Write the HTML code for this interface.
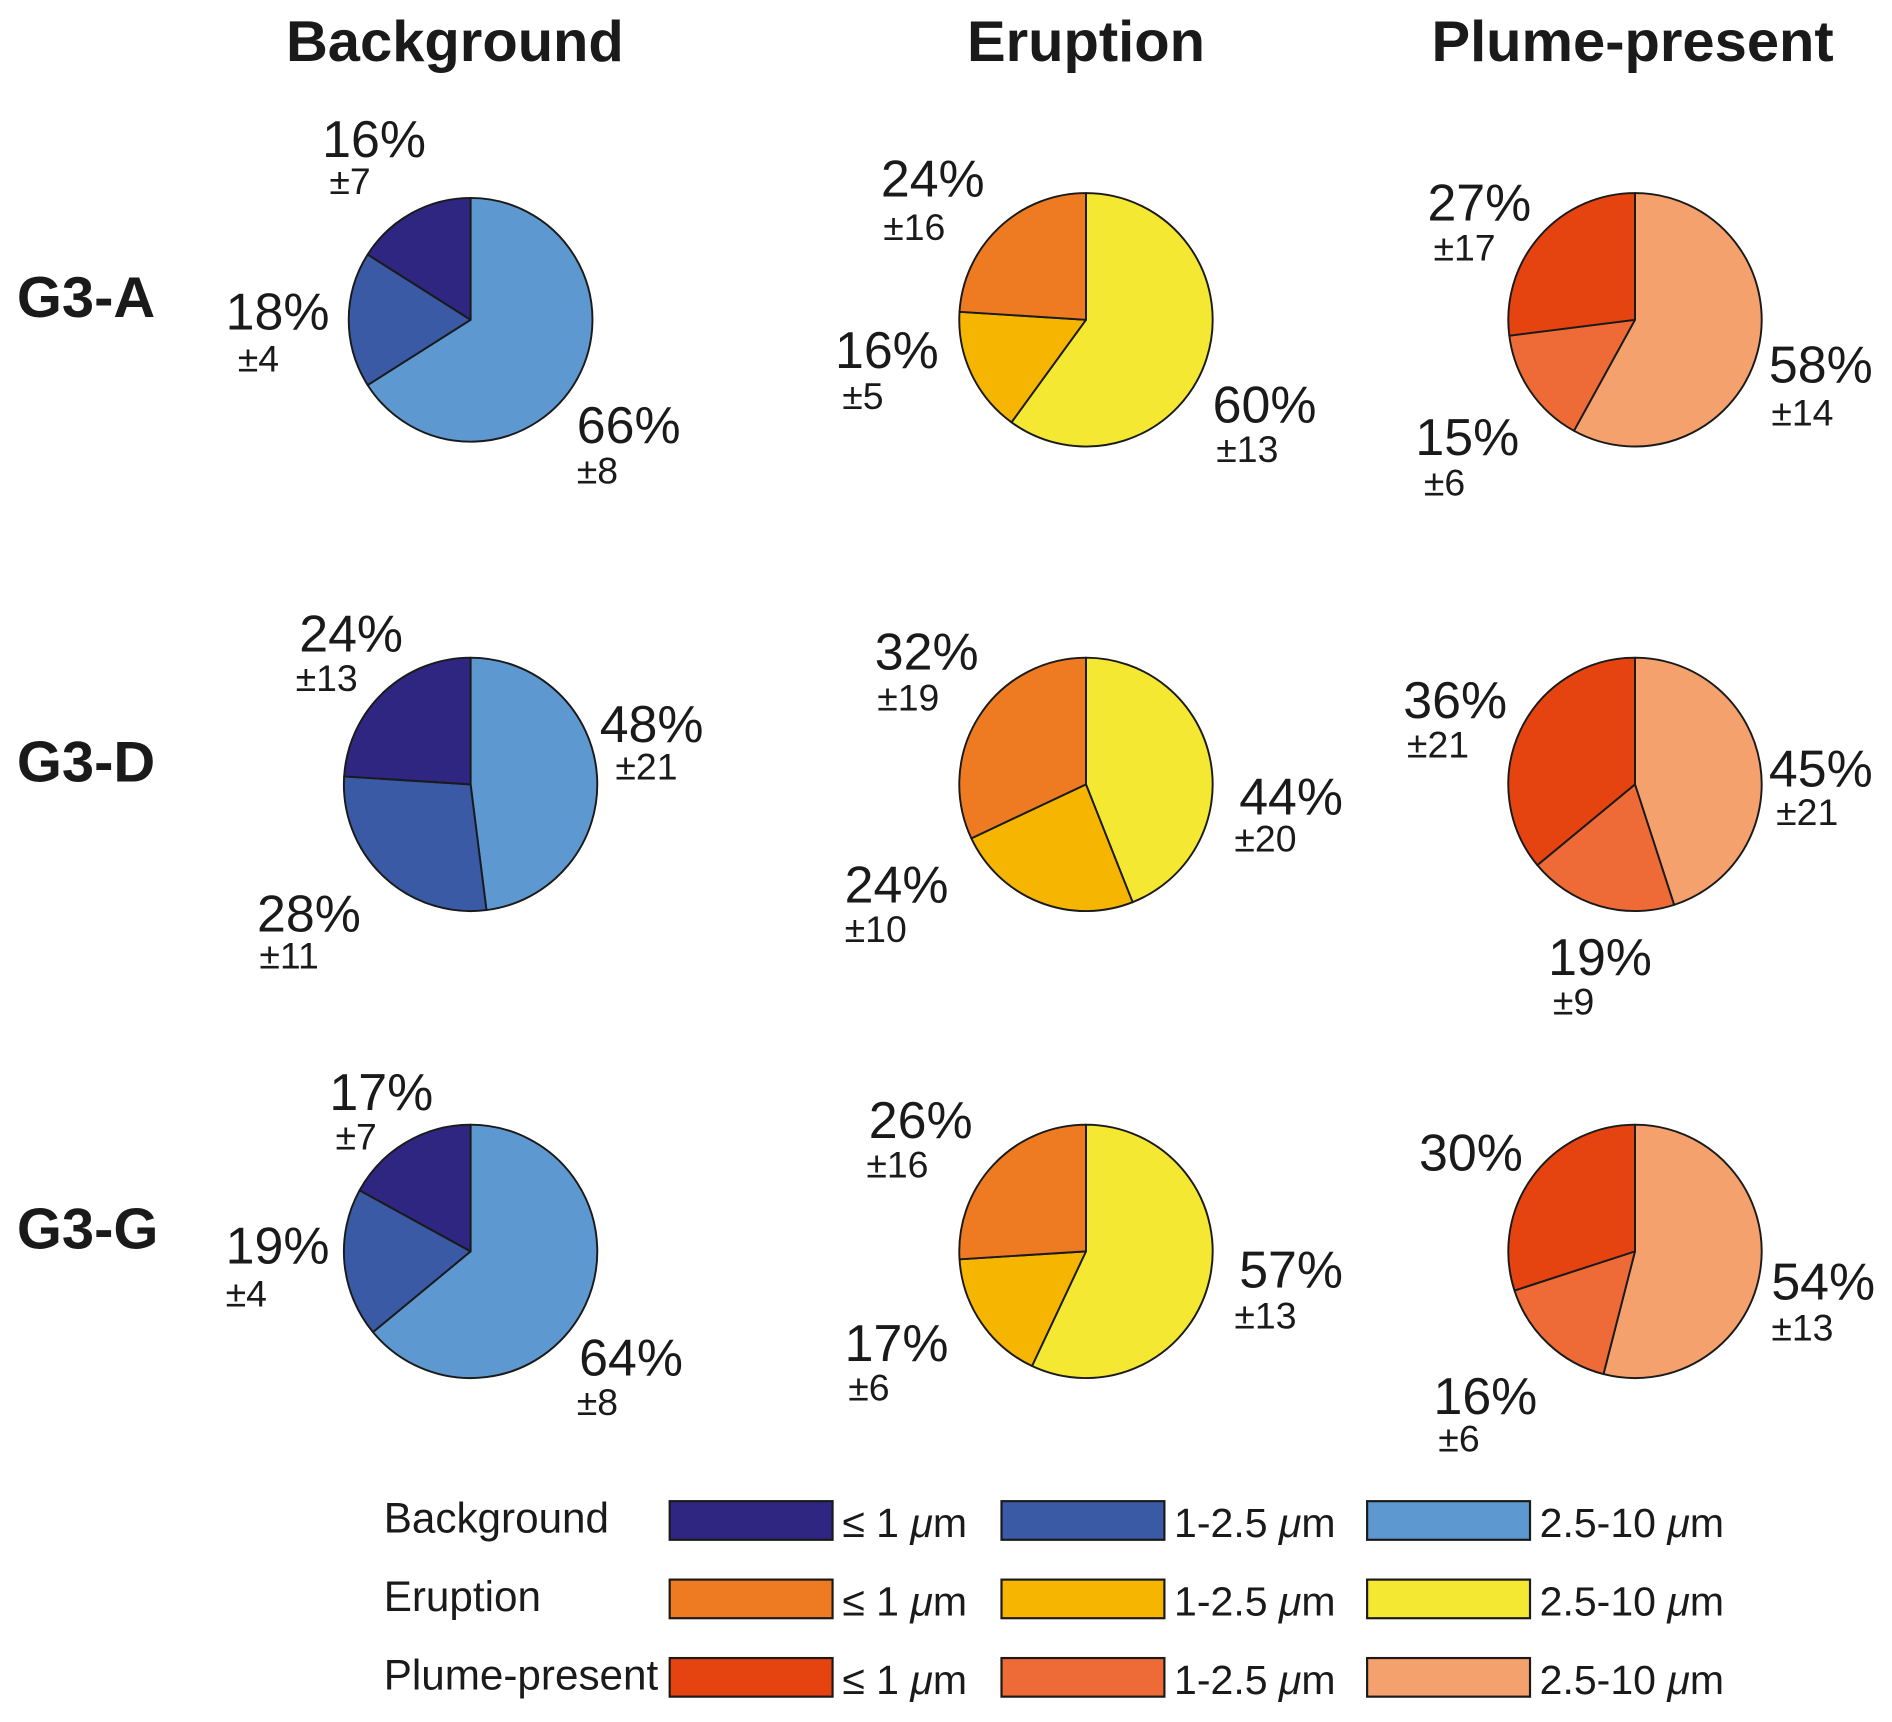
<!DOCTYPE html>
<html><head><meta charset="utf-8">
<style>
html,body{margin:0;padding:0;background:#fff;}
svg{display:block;}
text{font-family:"Liberation Sans",Arial,sans-serif;fill:#1a1a1a;}
</style></head>
<body>
<svg id="chart" width="1892" height="1722" viewBox="0 0 1568 1427" preserveAspectRatio="none" xmlns="http://www.w3.org/2000/svg"></svg>
<script>
// ---- data ----
const periods = ["Background", "Eruption", "Plume-present"];
const sites = ["G3-A", "G3-D", "G3-G"];
const sizeBins = ["≤ 1 ", "1-2.5 ", "2.5-10 "];
// percentages [≤1, 1-2.5, 2.5-10] per site (rows) per period (cols)
const bgValues = [[16, 18, 66], [24, 28, 48], [17, 19, 64]];
const erValues = [[24, 16, 60], [32, 24, 44], [26, 17, 57]];
const plValues = [[27, 15, 58], [36, 19, 45], [30, 16, 54]];
const bgErrors = [["±7", "±4", "±8"], ["±13", "±11", "±21"], ["±7", "±4", "±8"]];
const erErrors = [["±16", "±5", "±13"], ["±19", "±10", "±20"], ["±16", "±6", "±13"]];
const plErrors = [["±17", "±6", "±14"], ["±21", "±9", "±21"], ["", "±6", "±13"]];
const bgColors = ["#2e2680", "#3a5aa5", "#5e98d0"];
const erColors = ["#ee7b22", "#f6b500", "#f4e833"];
const plColors = ["#e5430f", "#ee6a36", "#f4a16d"];

// ---- layout (not data) ----
const colX = [390, 900, 1355];
const rowY = [265, 650, 1037];
const radius = [[101, 105, 105], [105, 105, 105], [105, 105, 105]];
const labelPos = [
 [ [[267,115,273,150],[187,258,197,297],[478,352,478,390]],
   [[730,148,732,188],[692,290,698,328],[1005,335,1008,372]],
   [[1183,168,1188,205],[1173,362,1180,400],[1466,302,1468,342]] ],
 [ [[248,525,245,562],[213,757,215,792],[497,600,510,635]],
   [[725,540,727,578],[700,733,700,770],[1027,660,1023,695]],
   [[1163,580,1166,617],[1283,793,1287,830],[1466,637,1472,673]] ],
 [ [[273,905,278,942],[187,1032,187,1072],[480,1125,478,1162]],
   [[720,928,718,965],[700,1113,703,1150],[1027,1052,1023,1090]],
   [[1176,955,1176,990],[1188,1157,1192,1192],[1468,1062,1468,1100]] ]
];

const NS = "http://www.w3.org/2000/svg";
const svg = document.getElementById("chart");
function mk(tag, attrs, parent) {
  const e = document.createElementNS(NS, tag);
  for (const k in attrs) e.setAttribute(k, attrs[k]);
  (parent || svg).appendChild(e);
  return e;
}
function txt(x, y, s, size, weight, parent, anchor) {
  const t = mk("text", {x: x, y: y, "font-size": size, "font-weight": weight || "normal", "dominant-baseline": "central", "text-anchor": anchor || "start"}, parent);
  t.textContent = s;
  return t;
}

const titleX = [377, 900, 1353];
periods.forEach((p, c) => {
  const t = txt(titleX[c], 35, p, 48, "bold", null, "middle");
  
  
});

sites.forEach((s, r) => {
  const t = txt(14, rowY[r] - 18, s, 48, "bold");
  
  
});

const allValues = [bgValues, erValues, plValues];
const allErrors = [bgErrors, erErrors, plErrors];
const allColors = [bgColors, erColors, plColors];

function pt(cx, cy, r, frac) {
  const a = frac * 2 * Math.PI;
  return [cx + r * Math.sin(a), cy - r * Math.cos(a)];
}

for (let r = 0; r < 3; r++) {
  for (let c = 0; c < 3; c++) {
    const vals = allValues[c][r];
    const total = vals.reduce((a, b) => a + b, 0);
    const cx = colX[c], cy = rowY[r], rad = radius[r][c];
    const g = mk("g", {});
    
    
    let start = 0;
    [2, 1, 0].forEach(i => {
      const frac = vals[i] / total;
      const p0 = pt(cx, cy, rad, start), p1 = pt(cx, cy, rad, start + frac);
      const large = frac > 0.5 ? 1 : 0;
      const path = mk("path", {d: `M${cx},${cy} L${p0[0]},${p0[1]} A${rad},${rad} 0 ${large} 1 ${p1[0]},${p1[1]} Z`, fill: allColors[c][i], stroke: "#1a1a1a", "stroke-width": 1.6, "stroke-linejoin": "round"}, g);
      
      
      start += frac;
    });
    for (let i = 0; i < 3; i++) {
      const lp = labelPos[r][c][i];
      const t1 = txt(lp[0], lp[1], vals[i] + "%", 43, "normal", g);
      
      
      const e = allErrors[c][r][i];
      if (e) {
        const t2 = txt(lp[2], lp[3], e, 31, "normal", g);
        
        
      }
    }
  }
}

// legend
const legRowY = [1260, 1325, 1390];
const swX = [555, 830, 1133];
const lg = mk("g", {});


periods.forEach((p, r) => {
  const t = txt(318, legRowY[r] - 2, p, 35, "normal", lg);
  
  
  sizeBins.forEach((b, i) => {
    const rc = mk("rect", {x: swX[i], y: legRowY[r] - 16, width: 135, height: 32, fill: allColors[r][i], stroke: "#1a1a1a", "stroke-width": 1.8}, lg);
    
    
    const tt = txt(swX[i] + 143, legRowY[r] + 2, b, 34, "normal", lg);
    
    
    const mu = mk("tspan", {"font-style": "italic"}, tt);
    mu.textContent = "μ";
    const m = mk("tspan", {}, tt);
    m.textContent = "m";
  });
});
</script>
</body></html>
